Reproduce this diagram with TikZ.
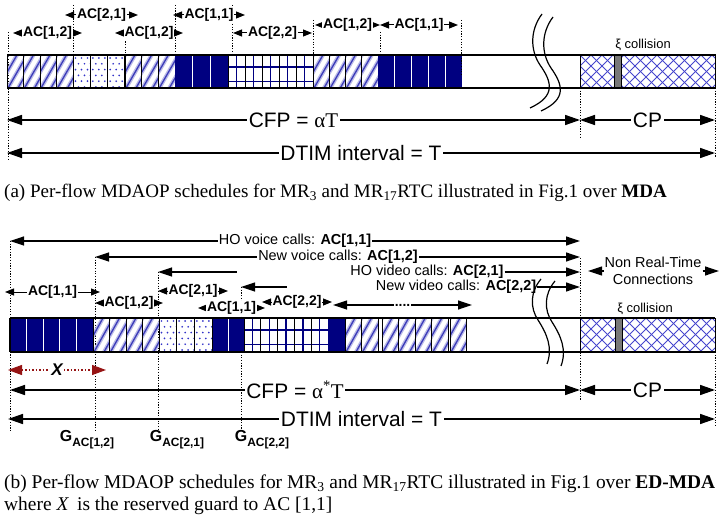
\documentclass[tikz,border=0pt]{standalone}
\usepackage{fontspec}
\setmainfont{Liberation Serif}
\newfontfamily\arialf{Liberation Sans}
\usetikzlibrary{arrows.meta}
\definecolor{navyc}{RGB}{0,0,128}
\definecolor{stripec}{RGB}{60,60,185}
\definecolor{dotc}{RGB}{50,50,200}
\definecolor{hatchc}{RGB}{70,70,205}
\definecolor{redc}{RGB}{150,20,20}
\definecolor{grayc}{RGB}{120,120,120}

\newcommand{\diagcells}[5]{%
 \foreach \i in {1,...,#3}{%
  \pgfmathsetmacro\xcell{#1+(\i-1)*#2}%
  \begin{scope}
   \clip (\xcell,#4) rectangle ++(#2,#5);
   \foreach \k in {0,...,4}{%
     \draw[stripesoft] ({\xcell-19+\k*10},{#4+#5}) -- ++(19,-#5);
     \draw[stripecore] ({\xcell-19+\k*10},{#4+#5}) -- ++(19,-#5);}
  \end{scope}
  \draw[cellb] (\xcell,#4) rectangle ++(#2,#5);
 }}
\newcommand{\dotcells}[5]{%
 \foreach \i in {1,...,#3}{%
  \pgfmathsetmacro\xcell{#1+(\i-1)*#2}%
  \begin{scope}
   \clip (\xcell,#4) rectangle ++(#2,#5);
   \foreach \r in {0,...,5}{\foreach \c in {0,...,2}{%
     \fill[dotc] ({\xcell+2.5+\c*6+mod(\r,2)*3},{#4+3+\r*5.8}) circle (0.95bp);}}
  \end{scope}
  \draw[cellb] (\xcell,#4) rectangle ++(#2,#5);
 }}
\newcommand{\navycells}[5]{%
 \fill[navyc] (#1,#4) rectangle ++({#2*#3},#5);
 \ifnum#3>1 \foreach \i in {2,...,#3}{\draw[white,line width=1.3bp] ({#1+(\i-1)*#2},#4) -- ++(0,#5);}\fi
}
\newcommand{\gridcells}[5]{%
 \foreach \i in {1,...,#3}{%
  \pgfmathsetmacro\xcell{#1+(\i-1)*#2}%
  \draw[gridl] ({\xcell+#2/2},#4) -- ++(0,#5);
  \draw[gridl] (\xcell,{#4+12}) -- ++(#2,0);
  \draw[gridl] (\xcell,{#4+26.5}) -- ++(#2,0);
  \draw[cellb] (\xcell,#4) rectangle ++(#2,#5);
 }}
\newcommand{\xhatch}[4]{%
 \begin{scope}
  \clip (#1,#3) rectangle (#2,{#3+#4});
  \foreach \k in {-4,...,16}{%
   \draw[hatchl] ({#1+\k*11},#3) -- ++(#4,#4);
   \draw[hatchl] ({#1+\k*11},#3) -- ++(-#4,#4);}
 \end{scope}
 \draw[cellb] (#1,#3) rectangle (#2,{#3+#4});
}

\begin{document}
\begin{tikzpicture}[x=1bp,y=-1bp,
  cellb/.style={draw=black, line width=1bp},
  barline/.style={line width=1.3bp},
  stripesoft/.style={stripec!35, line width=4bp},
  stripecore/.style={stripec, line width=1.3bp},
  gridl/.style={navyc, line width=1.4bp},
  hatchl/.style={hatchc, line width=0.9bp},
  vdot/.style={line width=1bp, dash pattern=on 1.2bp off 1.5bp},
  sarr/.style={{Triangle[length=9bp,width=7bp]}-{Triangle[length=9bp,width=7bp]}, line width=1bp},
  marr/.style={{Triangle[length=14bp,width=9bp]}-{Triangle[length=14bp,width=9bp]}, line width=1.2bp},
  larr/.style={{Triangle[length=15bp,width=10bp]}-{Triangle[length=15bp,width=10bp]}, line width=1.5bp},
  lab/.style={font=\arialf\bfseries\fontsize{14}{14}\selectfont, fill=white, inner sep=0.6bp},
  txt/.style={font=\arialf\fontsize{14.5}{17}\selectfont, fill=white, inner sep=1bp},
  big/.style={font=\arialf\fontsize{21}{21}\selectfont, fill=white, inner sep=1.5bp},
  gl/.style={font=\arialf\bfseries\fontsize{16}{16}\selectfont, inner sep=0pt},
  captxt/.style={font=\fontsize{19.5}{22}\selectfont, inner sep=0pt, align=left}
]
\useasboundingbox (0,0) rectangle (723,521);

% ================= (a) =================
\draw[vdot] (8,32) -- (8,160);
\draw[vdot] (73,5) -- (73,55);
\draw[vdot] (125,28) -- (125,55);
\draw[vdot] (175,5) -- (175,55);
\draw[vdot] (232,5) -- (232,55);
\draw[vdot] (313,20) -- (313,55);
\draw[vdot] (380,32) -- (380,55);
\draw[vdot] (580,88) -- (580,137);
\draw[vdot] (715,88) -- (715,158);

% bar
\diagcells{7}{16.5}{4}{55}{33}
\dotcells{73}{17.33}{3}{55}{33}
\diagcells{125}{16.67}{3}{55}{33}
\navycells{175}{17.67}{3}{55}{33}
\gridcells{228}{17}{5}{55}{33}
\diagcells{313}{16.25}{4}{55}{33}
\navycells{378}{16.8}{5}{55}{33}
\xhatch{580}{715}{55}{33}
\draw[cellb, fill=grayc] (614,55) rectangle (621,88);
\draw[barline] (7,55) -- (715,55);
\draw[barline] (7,88) -- (715,88);
\draw[vdot] (461,20) -- (461,75);

% break marks
\draw[line width=1.2bp] (542,14) .. controls (530,30) and (530,50) .. (540,65) .. controls (552,82) and (556,96) .. (530,108);
\draw[line width=1.2bp] (553,17) .. controls (541,33) and (541,53) .. (551,68) .. controls (563,85) and (567,99) .. (541,111);

% labels
\coordinate (a1L) at (13,33);  \coordinate (a1R) at (82,33);
\coordinate (a2L) at (65,15);  \coordinate (a2R) at (138,15);
\coordinate (a3L) at (115,33); \coordinate (a3R) at (183,33);
\coordinate (a4L) at (173,15); \coordinate (a4R) at (245,15);
\coordinate (a5L) at (233,33); \coordinate (a5R) at (312,33);
\coordinate (a6L) at (315,25); \coordinate (a6R) at (380,25);
\coordinate (a7L) at (380,25); \coordinate (a7R) at (458,25);
\draw[sarr] (a1L) -- (a1R) node[midway, lab] (ta1) {AC[1,2]};
\draw[sarr] (a2L) -- (a2R) node[midway, lab] (ta2) {AC[2,1]};
\draw[sarr] (a3L) -- (a3R) node[midway, lab] (ta3) {AC[1,2]};
\draw[sarr] (a4L) -- (a4R) node[midway, lab] (ta4) {AC[1,1]};
\draw[sarr] (a5L) -- (a5R) node[midway, lab] (ta5) {AC[2,2]};
\draw[sarr] (a6L) -- (a6R) node[midway, lab] (ta6) {AC[1,2]};
\draw[sarr] (a7L) -- (a7R) node[midway, lab] (ta7) {AC[1,1]};
\node[font=\arialf\fontsize{13}{13}\selectfont, inner sep=0pt] (xia) at (643,45) {ξ collision};

% dimension rows
\coordinate (cfpaL) at (7,120); \coordinate (cfpaR) at (580,120);
\coordinate (cpaR) at (715,120);
\coordinate (dtaL) at (7,153); \coordinate (dtaR) at (715,153);
\draw[larr] (cfpaL) -- (cfpaR) node[midway, big] (cfpa) {CFP = {\rmfamily αT}};
\draw[larr] (cfpaR) -- (cpaR) node[midway, big] (cpa) {CP};
\draw[larr] (dtaL) -- (dtaR) node[midway, big] (dta) {DTIM interval = T};

\node[captxt, font=\fontsize{19.1}{22}\selectfont, anchor=west] (capa) at (4,193) {(a) Per-flow MDAOP schedules for MR\textsubscript{3} and MR\textsubscript{17}RTC illustrated in Fig.1 over \textbf{MDA}};

% ================= (b) =================
\draw[vdot] (10,241) -- (10,432);
\draw[vdot] (95,257) -- (95,432);
\draw[vdot] (158,272) -- (158,432);
\draw[vdot] (241,287) -- (241,432);
\draw[vdot] (580,258) -- (580,400);
\draw[vdot] (715,352) -- (715,425);

% bar
\navycells{10}{16.6}{5}{318}{34}
\diagcells{93}{16.5}{4}{318}{34}
\dotcells{159}{17.67}{3}{318}{34}
\navycells{213}{15.5}{2}{318}{34}
\gridcells{244}{16.8}{5}{318}{34}
\navycells{328}{17}{1}{318}{34}
\diagcells{345}{16.5}{2}{318}{34}
\diagcells{382}{16.6}{4}{318}{34}
\diagcells{450}{16.5}{1}{318}{34}
\xhatch{580}{715}{318}{34}
\draw[cellb, fill=grayc] (615,318) rectangle (622,352);
\draw[barline] (10,318) -- (715,318);
\draw[barline] (10,352) -- (715,352);
\draw[barline] (10,318) -- (10,352);

% call rows
\coordinate (hvL) at (10,241); \coordinate (hvR) at (580,241);
\draw[marr] (hvL) -- (hvR);
\node[txt] (hvo) at (295,241) {HO voice calls: \textbf{AC[1,1]}};
\coordinate (nvL) at (95,257); \coordinate (nvR) at (580,257);
\draw[marr] (nvL) -- (nvR);
\node[txt] (nvo) at (338,257) {New voice calls: \textbf{AC[1,2]}};
\coordinate (hdL) at (158,272); \coordinate (hdM) at (237,272); \coordinate (hdR) at (580,272);
\node[txt] (hvi) at (427,272) {HO video calls: \textbf{AC[2,1]}};
\draw[line width=1.2bp, {Triangle[length=14bp,width=9bp]}-] (hdL) -- (hdM);
\draw[line width=1.2bp, -{Triangle[length=14bp,width=9bp]}] (hvi.east) -- (hdR);
\coordinate (ndL) at (241,287); \coordinate (ndM) at (287,287); \coordinate (ndR) at (580,287);
\node[txt] (nvi) at (456,287) {New video calls: \textbf{AC[2,2]}};
\draw[line width=1.2bp, {Triangle[length=14bp,width=9bp]}-] (ndL) -- (ndM);
\draw[line width=1.2bp, -{Triangle[length=14bp,width=9bp]}] (nvi.east) -- (ndR);

% non real-time
\node[font=\arialf\fontsize{14.5}{17}\selectfont, align=center, inner sep=1bp] (nrt) at (653,271) {Non Real-Time\\Connections};
\coordinate (nrtL) at (588,271); \coordinate (nrtR) at (719,271);
\draw[line width=1.2bp, -{Triangle[length=14bp,width=9bp]}] (nrt.west) -- (nrtL);
\draw[line width=1.2bp, -{Triangle[length=14bp,width=9bp]}] (nrt.east) -- (nrtR);

% break marks
\draw[line width=1.2bp] (541,279) .. controls (530,292) and (530,308) .. (538,320) .. controls (547,334) and (553,348) .. (547,364);
\draw[line width=1.2bp] (555,281) .. controls (544,294) and (544,310) .. (552,322) .. controls (561,336) and (567,350) .. (561,366);

% AC labels
\coordinate (b1L) at (5,292);   \coordinate (b1R) at (100,292);
\coordinate (b2L) at (95,303);  \coordinate (b2R) at (163,303);
\coordinate (b3L) at (158,291); \coordinate (b3R) at (228,291);
\coordinate (b4L) at (198,308); \coordinate (b4R) at (265,308);
\coordinate (b5L) at (262,302); \coordinate (b5R) at (332,302);
\coordinate (b6L) at (333,305); \coordinate (b6R) at (472,305);
\draw[sarr] (b1L) -- (b1R) node[midway, lab] (tb1) {AC[1,1]};
\draw[sarr] (b2L) -- (b2R) node[midway, lab] (tb2) {AC[1,2]};
\draw[sarr] (b3L) -- (b3R) node[midway, lab] (tb3) {AC[2,1]};
\draw[sarr] (b4L) -- (b4R) node[midway, lab] (tb4) {AC[1,1]};
\draw[sarr] (b5L) -- (b5R) node[midway, lab] (tb5) {AC[2,2]};
\draw[marr] (b6L) -- (b6R) node[midway, lab] (tb6) {....};
\node[font=\arialf\fontsize{13}{13}\selectfont, inner sep=0pt] (xib) at (645,309) {ξ collision};

% guard X
\coordinate (gxL) at (8,370); \coordinate (gxR) at (106,370);
\draw[redc, line width=1.2bp, dash pattern=on 1.3bp off 2.2bp, {Triangle[length=14bp,width=10bp]}-{Triangle[length=14bp,width=10bp]}] (gxL) -- (gxR);
\node[font=\arialf\bfseries\itshape\fontsize{17}{17}\selectfont, fill=white, inner sep=1bp] (gx) at (57,370) {X};

% dimension rows
\coordinate (cfpbL) at (10,390); \coordinate (cfpbR) at (580,390);
\coordinate (cpbR) at (715,390);
\coordinate (dtbL) at (8,419); \coordinate (dtbR) at (715,419);
\draw[larr] (cfpbL) -- (cfpbR) node[midway, big] (cfpb) {CFP = {\rmfamily α\textsuperscript{*}T}};
\draw[larr] (cfpbR) -- (cpbR) node[midway, big] (cpb) {CP};
\draw[larr] (dtbL) -- (dtbR) node[midway, big] (dtb) {DTIM interval = T};

% guard labels
\node[gl] (g1) at (87,440) {G\raisebox{-0.3em}{\fontsize{12}{12}\selectfont AC[1,2]}};
\node[gl] (g2) at (177,440) {G\raisebox{-0.3em}{\fontsize{12}{12}\selectfont AC[2,1]}};
\node[gl] (g3) at (262,440) {G\raisebox{-0.3em}{\fontsize{12}{12}\selectfont AC[2,2]}};

\node[captxt, anchor=north west] (capb) at (4,475) {(b) Per-flow MDAOP schedules for MR\textsubscript{3} and MR\textsubscript{17}RTC illustrated in Fig.1 over \textbf{ED-MDA}\\where \textit{X}\, is the reserved guard to AC [1,1]};
\end{tikzpicture}
\end{document}
